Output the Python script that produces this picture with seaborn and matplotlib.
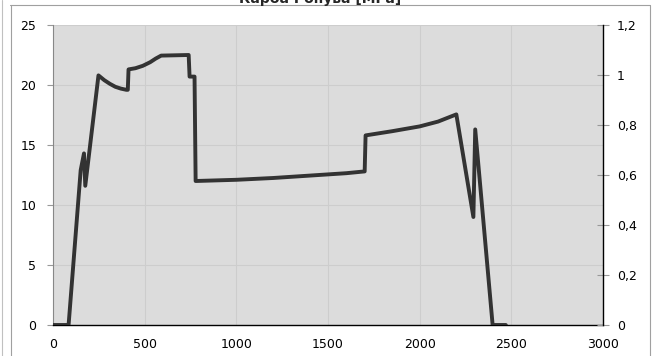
import matplotlib
matplotlib.use("Agg")
import matplotlib.pyplot as plt
from matplotlib.lines import Line2D
from matplotlib.ticker import FuncFormatter
import pandas as pd
import seaborn as sns

# Time / position samples and the measured stress along them
x_vals = [0, 85, 151, 169, 176, 248, 280, 310, 340, 370, 400, 408,
          412, 450, 490, 530, 560, 590, 740, 745, 772, 778,
          1000, 1200, 1400, 1600, 1700, 1705,
          1850, 2000, 2100, 2200, 2293, 2303, 2398, 2470]
stress = [0, 0, 12.9, 14.3, 11.6, 20.8, 20.4, 20.1, 19.85, 19.7, 19.6, 19.6,
          21.3, 21.4, 21.6, 21.9, 22.2, 22.45, 22.5, 20.7, 20.7, 12.0,
          12.1, 12.25, 12.45, 12.65, 12.8, 15.8,
          16.15, 16.55, 16.95, 17.55, 9.0, 16.3, 0, 0]

left_ticks = [0, 5, 10, 15, 20, 25]
right_ticks = [0, 0.2, 0.4, 0.6, 0.8, 1.0, 1.2]
x_ticks = [0, 500, 1000, 1500, 2000, 2500, 3000]
title = "Карба Ронува [MPa]"

df = pd.DataFrame({"x": x_vals, "stress": stress})

sns.set_theme(style="white")
plt.rcParams["font.family"] = ["DejaVu Sans"]

fig = plt.figure(figsize=(6.53, 3.56), dpi=100)
ax = fig.add_axes([53 / 653, 1 - 325 / 356, 550 / 653, 300 / 356])
ax.set_facecolor("#dcdcdc")

sns.lineplot(data=df, x="x", y="stress", sort=False, ax=ax,
             color="#333333", linewidth=2.8, zorder=5)

ax.set_xlim(0, 3000)
ax.set_ylim(0, 25)
ax.set_xticks(x_ticks)
ax.set_yticks(left_ticks)
ax.grid(True, color="#cdcdcd", linewidth=0.8)
ax.set_axisbelow(True)
ax.set_xlabel("")
ax.set_ylabel("")

for side in ["top", "right"]:
    ax.spines[side].set_visible(False)
ax.spines["left"].set_color("#888888")
ax.spines["left"].set_linewidth(0.8)
ax.spines["bottom"].set_color("#000000")
ax.spines["bottom"].set_linewidth(1.0)
ax.tick_params(axis="both", which="both", direction="out", length=4,
               width=0.8, color="#999999", labelsize=9, labelcolor="#000000")
ax.tick_params(axis="y", pad=8)
ax.tick_params(axis="x", pad=5)

ax2 = ax.twinx()
ax2.set_ylim(0, 1.2)
ax2.set_yticks(right_ticks)
ax2.yaxis.set_major_formatter(
    FuncFormatter(lambda v, p: f"{v:g}".replace(".", ",")))
for side in ["top", "left", "bottom"]:
    ax2.spines[side].set_visible(False)
ax2.spines["right"].set_color("#000000")
ax2.spines["right"].set_linewidth(1.0)
ax2.tick_params(axis="y", direction="inout", length=8, width=0.8,
                color="#999999", labelsize=9, labelcolor="#000000", pad=6)
ax2.grid(False)

# title sits on the top edge of the chart frame, partly above the canvas
ttl = fig.text(320 / 653, 1 - 3 / 356, title, fontsize=10, fontweight="bold",
               ha="center", va="baseline")

# chart-area frame
fig.add_artist(Line2D([10 / 653, 650 / 653], [1 - 4.5 / 356, 1 - 4.5 / 356],
                      transform=fig.transFigure, color="#a0a0a0", lw=0.8))
fig.add_artist(Line2D([10.5 / 653, 10.5 / 653], [0, 1 - 4.5 / 356],
                      transform=fig.transFigure, color="#a0a0a0", lw=0.8))
fig.add_artist(Line2D([650 / 653, 650 / 653], [0, 1 - 4.5 / 356],
                      transform=fig.transFigure, color="#a0a0a0", lw=0.8))
fig.add_artist(Line2D([1.5 / 653, 1.5 / 653], [0, 1],
                      transform=fig.transFigure, color="#c0c0c0", lw=0.8))

fig.savefig("out.png", dpi=100)
